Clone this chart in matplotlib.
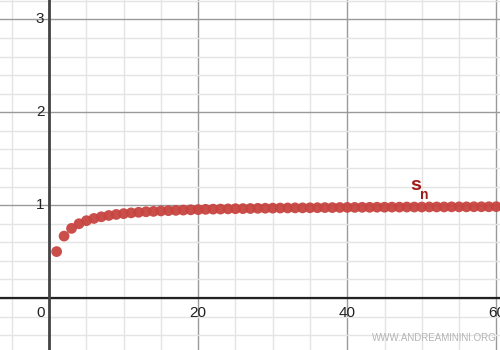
import matplotlib
matplotlib.use('Agg')
import matplotlib.pyplot as plt
from matplotlib.ticker import MultipleLocator

# indici della successione e valori
n_vals = list(range(1, 62))
s_vals = [0.5, 0.667, 0.75, 0.8, 0.833, 0.857, 0.875, 0.889, 0.9, 0.909,
          0.917, 0.923, 0.929, 0.933, 0.938, 0.941, 0.944, 0.947, 0.95, 0.952,
          0.955, 0.957, 0.958, 0.96, 0.962, 0.963, 0.964, 0.966, 0.967, 0.968,
          0.969, 0.97, 0.971, 0.971, 0.972, 0.973, 0.974, 0.974, 0.975, 0.976,
          0.976, 0.977, 0.977, 0.978, 0.978, 0.979, 0.979, 0.98, 0.98, 0.98,
          0.981, 0.981, 0.981, 0.982, 0.982, 0.982, 0.983, 0.983, 0.983, 0.984,
          0.984]

x_ticks = [0, 20, 40, 60]
y_ticks = [1, 2, 3]

plt.rcParams['font.family'] = ['Liberation Sans', 'DejaVu Sans']

fig = plt.figure(figsize=(5, 3.5), dpi=100)
ax = fig.add_axes([0, 0, 1, 1])
ax.set_xlim(-6.6, 60.5)
ax.set_ylim(-0.56, 3.21)

# griglia stile desmos
ax.xaxis.set_major_locator(MultipleLocator(20))
ax.xaxis.set_minor_locator(MultipleLocator(5))
ax.yaxis.set_major_locator(MultipleLocator(1))
ax.yaxis.set_minor_locator(MultipleLocator(0.2))
ax.grid(which='minor', color='#e4e4e4', linewidth=1)
ax.grid(which='major', color='#9a9a9a', linewidth=1)
ax.tick_params(which='both', length=0, labelbottom=False, labelleft=False)
for sp in ax.spines.values():
    sp.set_visible(False)
ax.set_axisbelow(True)

ax.axhline(0, color='#222222', linewidth=1.6, zorder=2)
ax.axvline(0, color='#444444', linewidth=2, zorder=2)

# etichette assi
for t in x_ticks:
    xx = -1.1 if t == 0 else t
    ax.text(xx, -0.09, str(t), ha='center', va='top', fontsize=11, color='#222222')
for t in y_ticks:
    ax.text(-0.65, t, str(t), ha='right', va='center', fontsize=11, color='#222222')

ax.scatter(n_vals, s_vals, s=60, color='#c74440', edgecolors='none', alpha=0.95, zorder=3)

ax.text(48.4, 1.12, 's', fontsize=14, fontweight='bold', color='#a01818', ha='left', va='bottom')
ax.text(49.8, 1.11, 'n', fontsize=10, fontweight='bold', color='#a01818', ha='left', va='center')

fig.text(0.868, 0.035, 'WWW.ANDREAMININI.ORG', fontsize=7, color='#b5b5b5', ha='center', va='center')

fig.savefig('out.png', dpi=100)
